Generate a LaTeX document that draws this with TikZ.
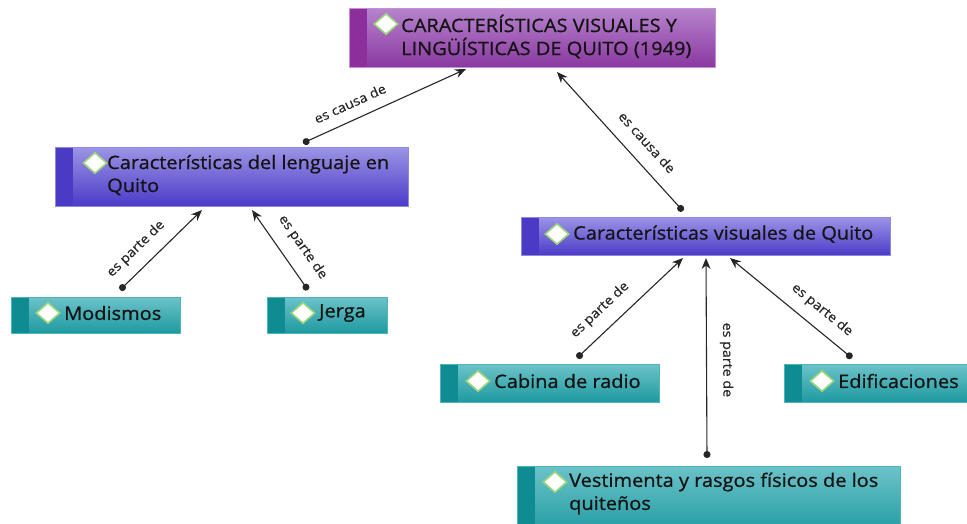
\documentclass[tikz,border=0pt]{standalone}
\usepackage{fontspec}
\setmainfont{Open Sans}
\newfontfamily\boxfont[FakeBold=0.9,FakeStretch=1.08]{Open Sans}
\newfontfamily\relfont[FakeBold=0.4,FakeStretch=1.08]{Open Sans}
\usetikzlibrary{arrows.meta,calc,shapes.geometric}
\definecolor{purT}{HTML}{B784CD}
\definecolor{purB}{HTML}{8A38A0}
\definecolor{purS}{HTML}{8C2E9C}
\definecolor{purD}{HTML}{C58FD6}
\definecolor{bluT}{HTML}{9C94E6}
\definecolor{bluB}{HTML}{4B3CC8}
\definecolor{bluS}{HTML}{4A3AC4}
\definecolor{bluD}{HTML}{8F88E6}
\definecolor{teaT}{HTML}{6CC3C9}
\definecolor{teaB}{HTML}{1E9AA0}
\definecolor{teaS}{HTML}{0E8C92}
\definecolor{teaD}{HTML}{4DB6BC}
\definecolor{dgreen}{HTML}{9CD67C}
\tikzset{
  box/.style={rectangle, draw=#1D, line width=1pt, top color=#1T, bottom color=#1B,
    inner sep=0pt, outer sep=0pt, anchor=north west,
    path picture={\fill[#1S] (path picture bounding box.north west) rectangle ([xshift=18pt]path picture bounding box.south west);}},
  dia/.style={diamond, fill=white, draw=dgreen, line width=1.6pt, minimum width=24pt, minimum height=21pt, inner sep=0pt},
  txt/.style={anchor=west, align=left, inner sep=0pt, font=\boxfont\fontsize{18.5}{23}\selectfont, text=black!92},
  conn/.style={draw=black!85, line width=1.1pt, {Circle[length=7pt]}-{Stealth[length=11pt,width=9pt]}},
  rel/.style={font=\relfont\fontsize{13.2}{15}\selectfont, text=black!85, sloped, above, inner xsep=0pt, inner ysep=11pt},
}
\begin{document}
\begin{tikzpicture}[x=1pt,y=-1pt]
\useasboundingbox (0,0) rectangle (967,523);
\clip (0,0) rectangle (967,523);
% boxes
\node[box=pur, minimum width=366pt, minimum height=59pt] (top) at (349,8) {};
\node[box=blu, minimum width=353pt, minimum height=59pt] (lang) at (55,147) {};
\node[box=tea, minimum width=169pt, minimum height=36pt] (mod) at (11,297) {};
\node[box=tea, minimum width=120pt, minimum height=36pt] (jer) at (267,297) {};
\node[box=blu, minimum width=369pt, minimum height=38pt] (vis) at (521,217) {};
\node[box=tea, minimum width=219pt, minimum height=38pt] (cab) at (440,364) {};
\node[box=tea, minimum width=200pt, minimum height=38pt] (edi) at (784,364) {};
\node[box=tea, minimum width=383pt, minimum height=70pt] (ves) at (517,466) {};
% diamonds
\node[dia] (dtop) at (386,24) {};
\node[dia] (dlang) at (95,163) {};
\node[dia] (dmod) at (48,313) {};
\node[dia] (djer) at (303,313) {};
\node[dia] (dvis) at (557,234) {};
\node[dia] (dcab) at (478,381) {};
\node[dia] (dedi) at (822,381) {};
\node[dia] (dves) at (555,482) {};
% texts
\node[txt] (ttop) at (401,36.5) {CARACTERÍSTICAS VISUALES Y\\LINGÜÍSTICAS DE QUITO (1949)};
\node[txt] (tlang) at (107,175) {Características del lenguaje en\\Quito};
\node[txt] (tmod) at (64,313) {Modismos};
\node[txt] (tjer) at (319,313) {Jerga};
\node[txt] (tvis) at (573,234) {Características visuales de Quito};
\node[txt] (tcab) at (494,381) {Cabina de radio};
\node[txt] (tedi) at (838,381) {Edificaciones};
\node[txt] (tves) at (569,493.5) {Vestimenta y rasgos físicos de los\\quiteños};
% connectors
\draw[conn] ($(lang.north west)+(248,-4)$) -- node[rel, pos=0.33] {es causa de} ($(top.south west)+(117,2)$);
\draw[conn] ($(vis.north west)+(162,-6)$) -- node[rel, pos=0.4, inner ysep=14pt] {es causa de} ($(top.south west)+(208,5)$);
\draw[conn] ($(mod.north west)+(109,-7)$) -- node[rel, pos=0.35] {es parte de} ($(lang.south west)+(147,4)$);
\draw[conn] ($(jer.north west)+(41,-7)$) -- node[rel, pos=0.39, inner ysep=13pt] {es parte de} ($(lang.south west)+(197,4)$);
\draw[conn] ($(cab.north west)+(137,-6)$) -- node[rel, pos=0.34, inner ysep=12pt] {es parte de} ($(vis.south west)+(162,3)$);
\draw[conn] ($(ves.north west)+(190,-8)$) -- node[rel, pos=0.49, inner ysep=13pt] {es parte de} ($(vis.south west)+(185,3)$);
\draw[conn] ($(edi.north west)+(68,-6)$) -- node[rel, pos=0.34] {es parte de} ($(vis.south west)+(209,3)$);
\end{tikzpicture}
\end{document}
